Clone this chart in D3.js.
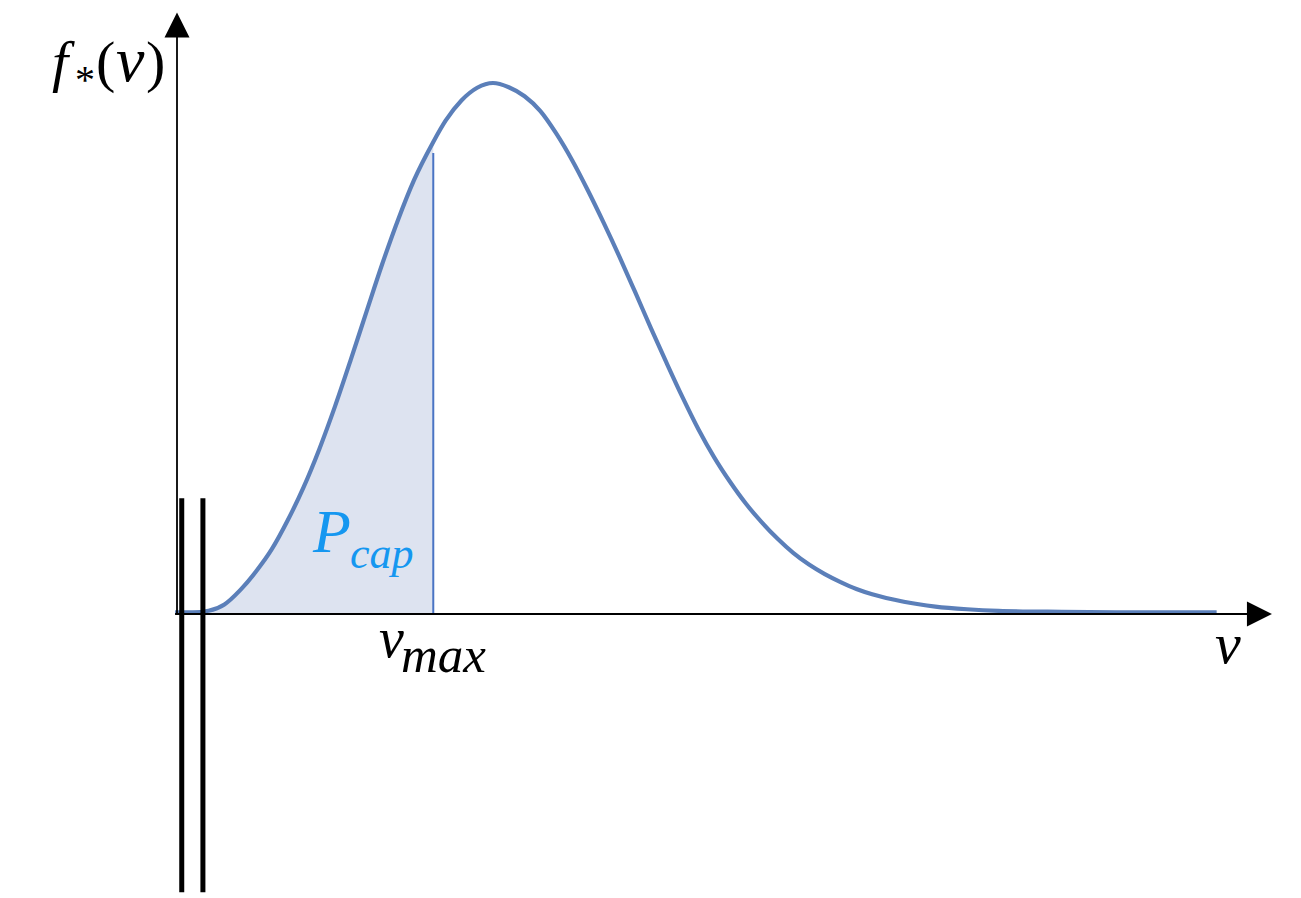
<!DOCTYPE html>
<html>
<head>
<meta charset="utf-8">
<script src="https://cdn.jsdelivr.net/npm/d3@7"></script>
<style>
  html, body { margin: 0; padding: 0; background: #fff; }
  svg { display: block; }
  text { font-family: "Liberation Serif", "Times New Roman", serif; }
</style>
</head>
<body>
<svg id="chart" width="1301" height="898"></svg>
<script>
// Speed distribution f*(v): speed in units of the most probable speed,
// density normalised to its peak.
const speeds = [-0.006, 0.05, 0.10, 0.15, 0.20, 0.25, 0.30, 0.35, 0.40, 0.45, 0.50,
  0.55, 0.60, 0.65, 0.70, 0.75, 0.811, 0.85, 0.90, 0.95, 1.00,
  1.05, 1.10, 1.15, 1.20, 1.25, 1.30, 1.35, 1.40, 1.45, 1.50, 1.55, 1.60, 1.65,
  1.70, 1.75, 1.80, 1.85, 1.90, 1.95, 2.00, 2.05, 2.10, 2.15, 2.20, 2.30, 2.40,
  2.50, 2.60, 2.80, 3.00, 3.29];
const density = [0.003, 0.003, 0.006, 0.018, 0.045, 0.080, 0.122, 0.176, 0.238, 0.310, 0.391,
  0.479, 0.570, 0.660, 0.743, 0.817, 0.889, 0.929, 0.967, 0.991, 1.000,
  0.992, 0.975, 0.947, 0.905, 0.855, 0.798, 0.737, 0.673, 0.606, 0.538, 0.472, 0.408, 0.348,
  0.295, 0.249, 0.208, 0.173, 0.142, 0.115, 0.093, 0.075, 0.060, 0.047, 0.037, 0.023, 0.014,
  0.009, 0.006, 0.004, 0.003, 0.003];

// Capture threshold and the height of its marker line
const vMax = 0.811;
const vMaxMarkerTop = 0.868;

// Two vertical bars near the origin (speed positions, vertical extent)
const barSpeeds = [0.015, 0.082];
const barExtent = [-0.524, 0.218];

// Axis extents
const xAxisEnd = 3.465;
const yAxisEnd = 1.133;

const points = speeds.map((v, i) => ({ v, f: density[i] }));

const svg = d3.select("#chart");
const x = d3.scaleLinear().domain([0, 1]).range([177, 493]);
const y = d3.scaleLinear().domain([0, 1]).range([614, 83]);

const curveType = d3.curveMonotoneX;

// Shaded region under the curve up to vMax
const shaded = points.filter(d => d.v <= vMax + 1e-9);
svg.append("path")
  .datum(shaded)
  .attr("d", d3.area().x(d => x(d.v)).y0(y(0)).y1(d => y(d.f)).curve(curveType))
  .attr("fill", "#dde3f0");

// vMax marker line
svg.append("line")
  .attr("x1", x(vMax)).attr("x2", x(vMax))
  .attr("y1", y(0)).attr("y2", y(vMaxMarkerTop))
  .attr("stroke", "#4a74c4").attr("stroke-width", 2);

// Distribution curve
svg.append("path")
  .datum(points)
  .attr("d", d3.line().x(d => x(d.v)).y(d => y(d.f)).curve(curveType))
  .attr("fill", "none")
  .attr("stroke", "#5b7fb9")
  .attr("stroke-width", 4.2)
  .attr("stroke-linejoin", "round");

// Axes with arrowheads
const axisColor = "#000";
const arrowLen = 25, arrowHalf = 12.5;
svg.append("line")
  .attr("x1", x(-0.006)).attr("x2", x(xAxisEnd) - arrowLen + 1)
  .attr("y1", y(0)).attr("y2", y(0))
  .attr("stroke", axisColor).attr("stroke-width", 1.8);
svg.append("path")
  .attr("d", `M${x(xAxisEnd)},${y(0)} L${x(xAxisEnd) - arrowLen},${y(0) - arrowHalf} L${x(xAxisEnd) - arrowLen},${y(0) + arrowHalf} Z`)
  .attr("fill", axisColor);

svg.append("line")
  .attr("x1", x(0)).attr("x2", x(0))
  .attr("y1", y(0)).attr("y2", y(yAxisEnd) + arrowLen - 1)
  .attr("stroke", axisColor).attr("stroke-width", 1.8);
svg.append("path")
  .attr("d", `M${x(0)},${y(yAxisEnd)} L${x(0) - arrowHalf},${y(yAxisEnd) + arrowLen} L${x(0) + arrowHalf},${y(yAxisEnd) + arrowLen} Z`)
  .attr("fill", axisColor);

// Thick bars near the origin
svg.selectAll("line.bar")
  .data(barSpeeds)
  .join("line")
  .attr("class", "bar")
  .attr("x1", d => x(d)).attr("x2", d => x(d))
  .attr("y1", y(barExtent[1])).attr("y2", y(barExtent[0]))
  .attr("stroke", "#000").attr("stroke-width", 5);

// Labels
function label(txt, px, py, size, opts) {
  const o = opts || {};
  svg.append("text")
    .attr("x", px).attr("y", py)
    .attr("font-size", size)
    .attr("font-style", o.upright ? "normal" : "italic")
    .attr("fill", o.color || "#000")
    .text(txt);
}
// f*(v)
label("f", 52, 81, 58);
label("*", 75, 93, 40, { upright: true });
label("(", 96, 81, 58, { upright: true });
label("v", 116, 81, 64);
label(")", 146, 81, 58, { upright: true });

// P_cap
const blue = "#1597f0";
label("P", 313, 552, 62, { color: blue });
label("cap", 350, 568, 44, { color: blue });

// v_max
label("v", 379, 657, 56);
label("max", 401, 672, 51);

// axis label v
label("v", 1215, 663, 58);
</script>
</body>
</html>
